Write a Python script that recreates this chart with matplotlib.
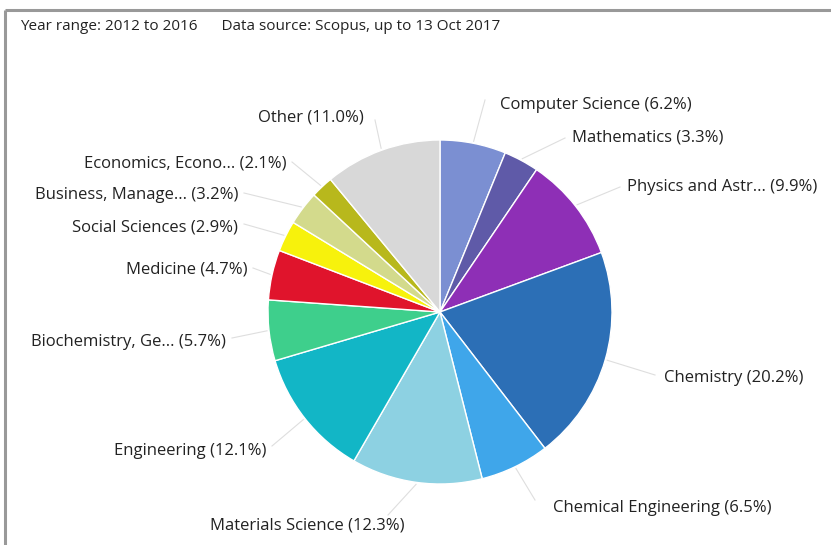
import matplotlib.pyplot as plt
import numpy as np

categories = ["Computer Science", "Mathematics", "Physics and Astr...", "Chemistry",
              "Chemical Engineering", "Materials Science", "Engineering",
              "Biochemistry, Ge...", "Medicine", "Social Sciences",
              "Business, Manage...", "Economics, Econo...", "Other"]
shares = [6.2, 3.3, 9.9, 20.2, 6.5, 12.3, 12.1, 5.7, 4.7, 2.9, 3.2, 2.1, 11.0]
colors = ["#7b8fd2", "#5f5aa8", "#8e2fb6", "#2c6fb6", "#3fa6ea", "#8dd1e2",
          "#12b6c6", "#3ecf8c", "#e0142c", "#f7f20c", "#d3da8c", "#b8b81c", "#d8d8d8"]

# label layout (pixel coords, anchor side nearest to pie)
lab_x = [500, 572, 627, 664, 553, 405, 266, 226, 247, 238, 238, 286, 364]
lab_y = [105, 138, 187, 378, 508, 526, 451, 342, 270, 227, 195, 163, 118]
lab_ha = ["left", "left", "left", "left", "left", "right", "right", "right",
          "right", "right", "right", "right", "right"]
line_end = [(485, 100), (565, 138), (620, 187), (655, 375), (535, 500), (388, 515),
            (272, 446), (232, 338), (253, 268), (244, 224), (244, 193), (292, 162), (375, 120)]

W, H = 831, 545
fig = plt.figure(figsize=(W / 100, H / 100), dpi=100)
ax = fig.add_axes([0, 0, 1, 1])

cx, cy, R = 440, 312, 172
wedges, _ = ax.pie(shares, colors=colors, startangle=90, counterclock=False,
                   center=(cx, H - cy), radius=R, frame=True,
                   wedgeprops=dict(edgecolor="white", linewidth=1.0))
ax.set_xlim(0, W)
ax.set_ylim(0, H)
ax.set_aspect("equal")
ax.axis("off")

font = ["Open Sans", "DejaVu Sans"]
for w, name, s, x, y, ha, (ex, ey), col in zip(wedges, categories, shares, lab_x, lab_y,
                                               lab_ha, line_end, colors):
    ang = np.deg2rad((w.theta1 + w.theta2) / 2)
    sx = cx + (R + 2) * np.cos(ang)
    sy = (H - cy) + (R + 2) * np.sin(ang)
    ax.plot([sx, ex], [sy, H - ey], color="#d6d6d6", lw=0.8, alpha=0.8, zorder=0)
    ax.text(x, H - y, f"{name} ({s}%)", ha=ha, va="center", fontsize=12,
            family=font, color="#222222")

ax.text(20, H - 26, "Year range: 2012 to 2016      Data source: Scopus, up to 13 Oct 2017",
        ha="left", va="center", fontsize=11, family=font, color="#222222")

# frame lines
ax.plot([5, W], [H - 10, H - 10], color="#999999", lw=2.2, solid_capstyle="butt")
ax.plot([5, 5], [H - 10, 0], color="#999999", lw=2.2, solid_capstyle="butt")

fig.savefig("out.png", dpi=100)
